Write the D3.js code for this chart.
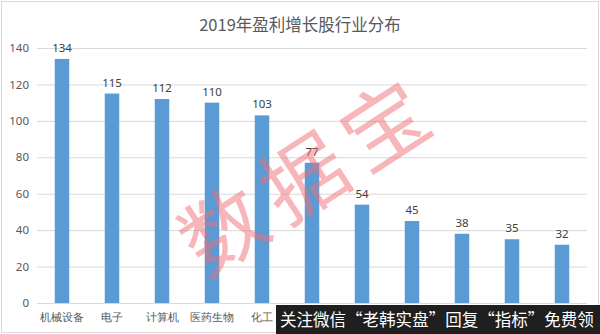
<!DOCTYPE html>
<html><head><meta charset="utf-8">
<script src="https://cdn.jsdelivr.net/npm/d3@7"></script>
<style>body{margin:0;background:#fff;}svg{display:block;font-family:"Microsoft YaHei","Noto Sans CJK SC",sans-serif;}</style>
</head><body>
<svg id="c" width="600" height="334"></svg>
<script>
const title = "2019年盈利增长股行业分布";
const categories = ["机械设备","电子","计算机","医药生物","化工","","","","","",""];
const values = [134,115,112,110,103,77,54,45,38,35,32];
const yTicks = [0,20,40,60,80,100,120,140];
const watermark = "数据宝";
const bannerText = "关注微信“老韩实盘”回复“指标”免费领";

const svg = d3.select("#c");
const W = 600, H = 334;
const m = {left:37, right:13, top:48, bottom:31};
svg.append("rect").attr("x",1.5).attr("y",1.5).attr("width",W-3).attr("height",H-3)
  .attr("fill","#fff").attr("stroke","#d9d9d9");

const idx = values.map((d,i)=>i);
const x = d3.scaleBand().domain(idx).range([m.left, W-m.right]).paddingInner(0.71).paddingOuter(0.355);
const y = d3.scaleLinear().domain([0,140]).range([H-m.bottom, m.top]);

svg.append("text").attr("x",300).attr("y",31).attr("text-anchor","middle")
  .attr("font-size",16.5).attr("fill","#595959").text(title);

const ya = svg.append("g").attr("transform",`translate(${m.left},0)`)
  .call(d3.axisLeft(y).tickValues(yTicks).tickSize(-(W-m.left-m.right)).tickPadding(8));
ya.select(".domain").remove();
ya.selectAll(".tick line").attr("stroke","#d9d9d9");
ya.selectAll(".tick text").attr("fill","#595959").attr("font-size",11.5).attr("font-family","Noto Sans, sans-serif");

const xa = svg.append("g").attr("transform",`translate(0,${H-m.bottom})`)
  .call(d3.axisBottom(x).tickFormat(i=>categories[i]).tickSize(0).tickPadding(10));
xa.select(".domain").remove();
xa.selectAll(".tick text").attr("fill","#595959").attr("font-size",11);

svg.append("g").selectAll("rect").data(values).join("rect")
  .attr("x",(d,i)=>x(i)).attr("width",x.bandwidth())
  .attr("y",d=>y(d)).attr("height",d=>y(0)-y(d)).attr("fill","#5b9bd5");

svg.append("g").selectAll("text").data(values).join("text")
  .attr("x",(d,i)=>x(i)+x.bandwidth()/2).attr("y",d=>y(d)-7)
  .attr("text-anchor","middle").attr("font-size",11.5).attr("fill","#404040")
  .attr("font-family","Noto Sans, sans-serif").text(d=>d);

svg.append("text").attr("transform","translate(306,170) rotate(-33)")
  .attr("text-anchor","middle").attr("dominant-baseline","central")
  .attr("font-size",84).attr("fill","rgba(240,110,115,0.5)").attr("letter-spacing",12).text(watermark);

svg.append("rect").attr("x",276).attr("y",305).attr("width",324).attr("height",29).attr("fill","#1f1f1f");
const bt = svg.append("text").attr("x",280).attr("y",326).attr("font-size",17).attr("fill","#fff").text(bannerText);
const natural = bt.node().getComputedTextLength();
const target = 314;
if (natural > target) bt.attr("font-size", 17 * target / natural);
</script>
</body></html>
